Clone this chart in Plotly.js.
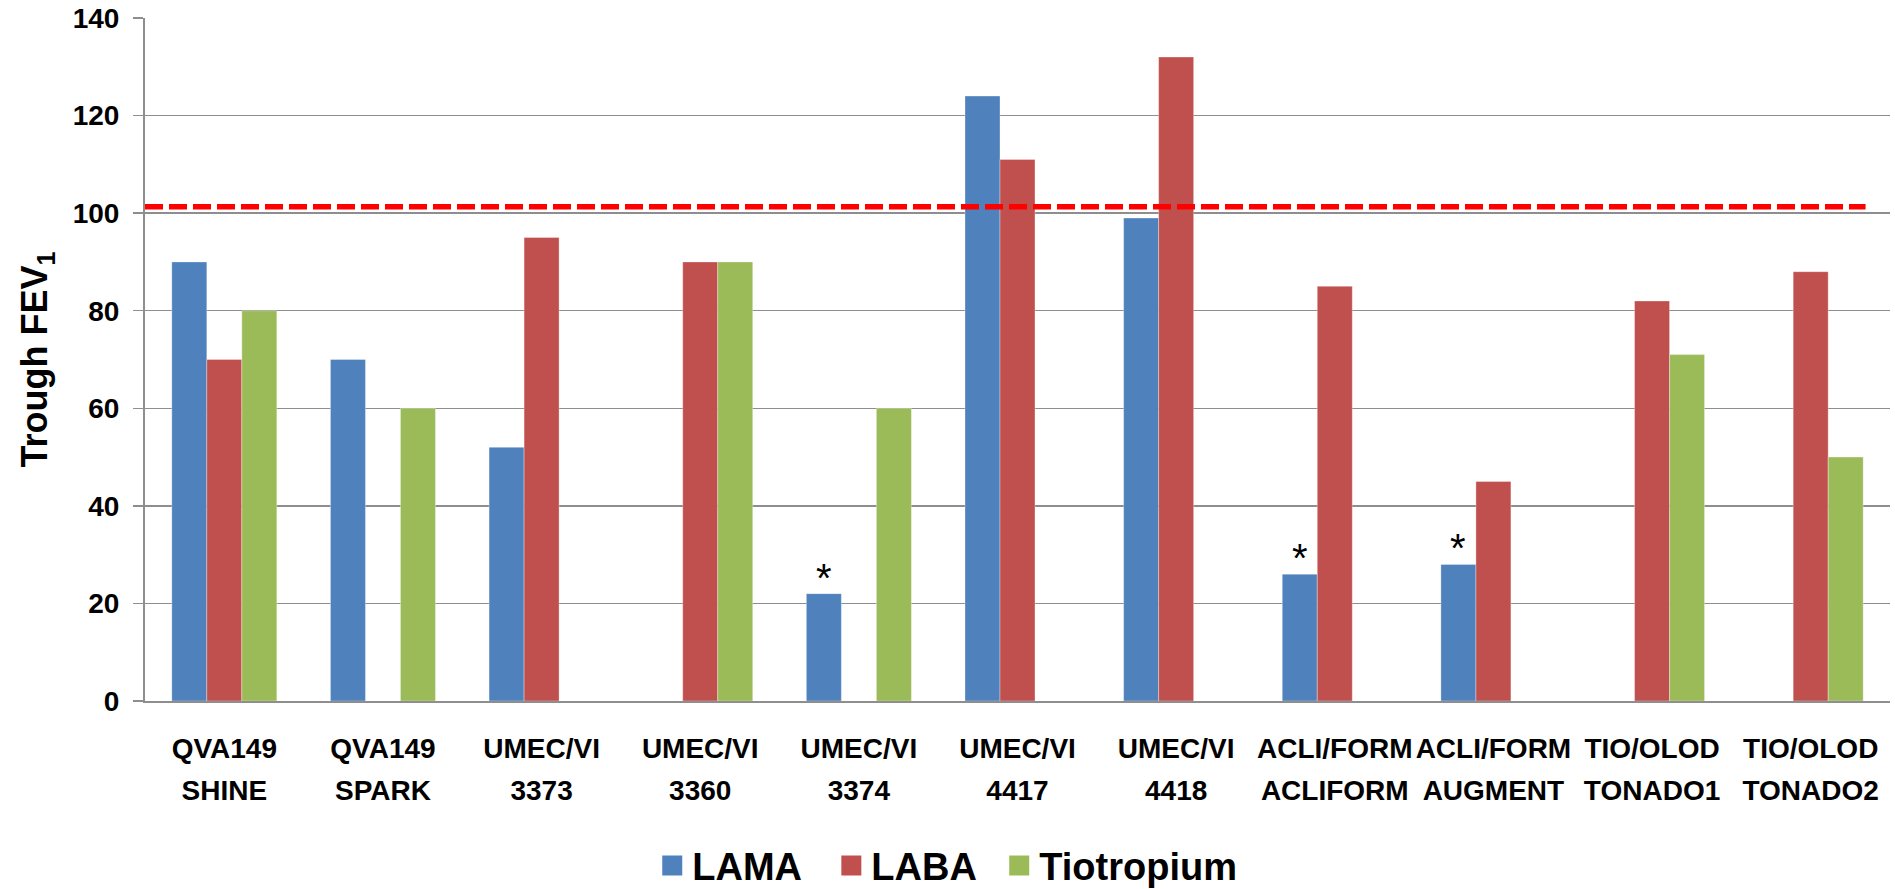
<!DOCTYPE html>
<html>
<head>
<meta charset="utf-8">
<script src="https://cdn.plot.ly/plotly-3.0.1.min.js"></script>
<style>
  html, body { margin: 0; padding: 0; background: #ffffff; }
  #chart { width: 1895px; height: 889px; }
</style>
</head>
<body>
<div id="chart"></div>
<script>
// ---- data ----
var labelLine1 = ["QVA149", "QVA149", "UMEC/VI", "UMEC/VI", "UMEC/VI", "UMEC/VI", "UMEC/VI", "ACLI/FORM", "ACLI/FORM", "TIO/OLOD", "TIO/OLOD"];
var labelLine2 = ["SHINE", "SPARK", "3373", "3360", "3374", "4417", "4418", "ACLIFORM", "AUGMENT", "TONADO1", "TONADO2"];
var seriesNames = ["LAMA", "LABA", "Tiotropium"];
var seriesColors = ["#4F81BD", "#C0504D", "#9BBB59"];
var lamaValues = [90, 70, 52, null, 22, 124, 99, 26, 28, null, null];
var labaValues = [70, null, 95, 90, null, 111, 132, 85, 45, 82, 88];
var tioValues  = [80, 60, null, 90, 60, null, null, null, null, 71, 50];
var lamaStar   = [false, false, false, false, true, false, false, true, true, false, false];
var referenceLine = 101.3;
var yTicks = [0, 20, 40, 60, 80, 100, 120, 140];

// ---- build ----
var categories = labelLine1.map(function (a, i) { return a + " " + labelLine2[i]; });
var idx = categories.map(function (_, i) { return i; });
var seriesValues = [lamaValues, labaValues, tioValues];
var BARGAP = 0.338;
var barW = (1 - BARGAP) / 3;

var FONT = "Liberation Sans, Arial, sans-serif";
var GRID = "#8e8e8e";
var legendIds = ["legend", "legend2", "legend3"];
var legendX = [0.3442, 0.4387, 0.5273];

var data = [];
seriesNames.forEach(function (name, k) {
  data.push({
    type: "bar", name: name, x: categories, y: seriesValues[k],
    legendgroup: name, showlegend: false,
    marker: { color: seriesColors[k], line: { width: 0.6, color: "rgba(255,255,255,0.55)" } },
    hoverinfo: "x+y+name"
  });
});
// legend keys (larger square swatches than the bar legend icon)
seriesNames.forEach(function (name, k) {
  data.push({
    type: "scatter", mode: "markers", name: name, legendgroup: name, legend: legendIds[k],
    x: [null], y: [null], showlegend: true, hoverinfo: "skip",
    marker: { symbol: "square", size: 16, color: seriesColors[k],
      line: { width: 4, color: seriesColors[k] } }
  });
});
// carrier for the second line of category labels (draws nothing)
data.push({ type: "scatter", mode: "none", x: idx, y: idx.map(function () { return null; }),
  xaxis: "x2", yaxis: "y", showlegend: false, hoverinfo: "skip" });

var annotations = [];
lamaStar.forEach(function (s, i) {
  if (s && lamaValues[i] != null) {
    annotations.push({
      xref: "x", yref: "y", x: i - barW, y: lamaValues[i],
      text: "*", showarrow: false, yanchor: "bottom", yshift: -8,
      font: { family: FONT, size: 40, color: "#000" }
    });
  }
});

function legendSpec(x) {
  return {
    orientation: "h", xref: "container", yref: "container",
    x: x, xanchor: "left", y: 0.026, yanchor: "middle",
    font: { family: FONT, size: 38, color: "#000", weight: "bold" },
    bgcolor: "rgba(0,0,0,0)"
  };
}

var layout = {
  width: 1895, height: 889,
  margin: { l: 145, r: 5, t: 18, b: 188, autoexpand: false },
  paper_bgcolor: "#ffffff", plot_bgcolor: "#ffffff",
  barmode: "group", bargap: BARGAP, bargroupgap: 0,
  showlegend: true,
  legend: legendSpec(legendX[0]),
  legend2: legendSpec(legendX[1]),
  legend3: legendSpec(legendX[2]),
  xaxis: {
    type: "category", range: [-0.5, categories.length - 0.5],
    tickmode: "array", tickvals: categories, ticktext: labelLine1,
    tickfont: { family: FONT, size: 28, color: "#000", weight: "bold" },
    showline: true, linecolor: GRID, linewidth: 2,
    showgrid: false, zeroline: false, ticks: "", ticklabelstandoff: 21,
    automargin: false, fixedrange: true
  },
  xaxis2: {
    type: "linear", overlaying: "x", anchor: "y", side: "bottom",
    range: [-0.5, categories.length - 0.5],
    tickmode: "array", tickvals: idx, ticktext: labelLine2,
    tickfont: { family: FONT, size: 28, color: "#000", weight: "bold" },
    showline: false, showgrid: false, zeroline: false, ticks: "", ticklabelstandoff: 70,
    automargin: false, fixedrange: true
  },
  yaxis: {
    range: [0, 140], tickmode: "array", tickvals: yTicks,
    tickfont: { family: FONT, size: 28, color: "#000", weight: "bold" },
    showgrid: true, gridcolor: GRID, gridwidth: 1.5,
    showline: true, linecolor: GRID, linewidth: 2,
    ticks: "outside", ticklen: 10, tickcolor: GRID, tickwidth: 1.5,
    ticklabelstandoff: 8, zeroline: false, automargin: false,
    title: { text: "Trough FEV<sub>1</sub>", standoff: 14,
      font: { family: FONT, size: 36, color: "#000", weight: "bold" } },
    fixedrange: true
  },
  shapes: [{
    type: "line", xref: "paper", yref: "y", x0: 0, x1: 0.986,
    y0: referenceLine, y1: referenceLine,
    line: { color: "#FF0000", width: 5.5, dash: "18px,6px" }
  }],
  annotations: annotations
};

Plotly.newPlot("chart", data, layout, { displayModeBar: false, staticPlot: true });
</script>
</body>
</html>
